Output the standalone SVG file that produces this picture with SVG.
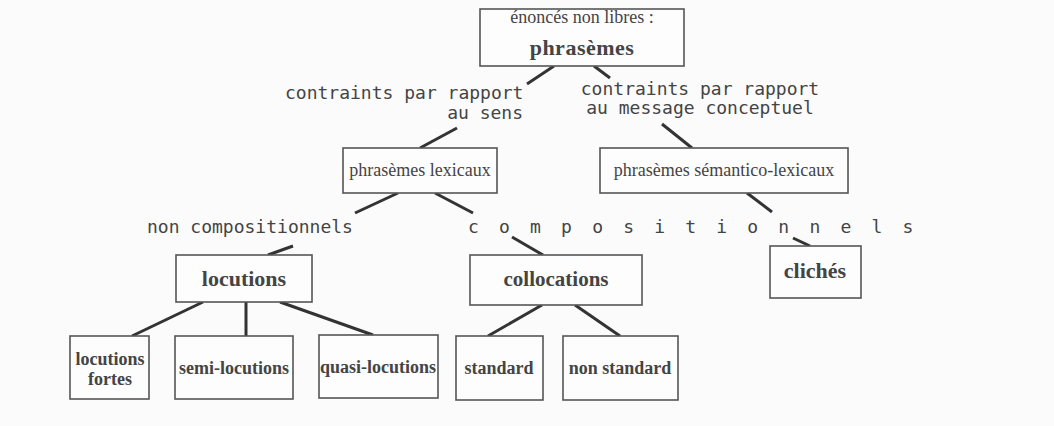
<svg xmlns="http://www.w3.org/2000/svg" width="1054" height="426" viewBox="0 0 1054 426">
<style>
.box{fill:#fdfdfd;stroke:#555;stroke-width:1.6}
.t{font-family:"Liberation Serif",serif;fill:#444;text-anchor:middle}
.r{font-size:18px}
.b{font-weight:bold}
.m{font-family:"DejaVu Sans Mono","Liberation Mono",monospace;font-size:18px;fill:#444}
.c line{stroke:#333;stroke-width:3;stroke-linecap:butt}
</style>
<rect width="1054" height="426" fill="#fbfbfb"/>
<g class="c" id="connectors">
<line x1="554" y1="66" x2="527" y2="84"/>
<line x1="457" y1="128" x2="420" y2="148"/>
<line x1="594" y1="66" x2="610" y2="78"/>
<line x1="662" y1="124" x2="692" y2="148"/>
<line x1="398" y1="193" x2="355" y2="213"/>
<line x1="435" y1="193" x2="473" y2="213"/>
<line x1="747" y1="193" x2="772" y2="212"/>
<line x1="293" y1="246" x2="268" y2="255"/>
<line x1="512" y1="237" x2="543" y2="255"/>
<line x1="793" y1="238" x2="810" y2="246"/>
<line x1="203" y1="302" x2="132" y2="336"/>
<line x1="246" y1="302" x2="246" y2="336"/>
<line x1="280" y1="302" x2="373" y2="335"/>
<line x1="542" y1="305" x2="488" y2="336"/>
<line x1="575" y1="305" x2="620" y2="336"/>
</g>
<g id="labels">
<text class="m" x="285" y="99">contraints par rapport</text>
<text class="m" x="523" y="119" text-anchor="end">au sens</text>
<text class="m" x="700" y="95" text-anchor="middle">contraints par rapport</text>
<text class="m" x="700" y="114" text-anchor="middle">au message conceptuel</text>
<text class="m" x="147" y="233">non compositionnels</text>
<text class="m" x="468" y="233" letter-spacing="20.2">compositionnels</text>
</g>
<g id="phrasemes">
<rect class="box" x="480" y="9" width="204" height="57"/>
<text class="t r" x="582" y="23">énoncés non libres :</text>
<text class="t b" x="582" y="55" font-size="22" letter-spacing="0.5">phrasèmes</text>
</g>
<g id="lexicaux">
<rect class="box" x="343" y="148" width="154" height="45"/>
<text class="t r" x="420" y="176">phrasèmes lexicaux</text>
</g>
<g id="semantico">
<rect class="box" x="600" y="148" width="248" height="45"/>
<text class="t r" x="724" y="176">phrasèmes sémantico-lexicaux</text>
</g>
<g id="locutions">
<rect class="box" x="176" y="255" width="136" height="47"/>
<text class="t b" x="244" y="286" font-size="22">locutions</text>
</g>
<g id="collocations">
<rect class="box" x="470" y="255" width="172" height="50"/>
<text class="t b" x="556" y="286" font-size="21">collocations</text>
</g>
<g id="cliches">
<rect class="box" x="770" y="246" width="91" height="52"/>
<text class="t b" x="815" y="278" font-size="22">clichés</text>
</g>
<g id="locutions-fortes">
<rect class="box" x="70" y="336" width="79" height="63"/>
<text class="t b r" x="110" y="365">locutions</text>
<text class="t b r" x="110" y="385">fortes</text>
</g>
<g id="semi-locutions">
<rect class="box" x="175" y="336" width="118" height="63"/>
<text class="t b r" x="234" y="374">semi-locutions</text>
</g>
<g id="quasi-locutions">
<rect class="box" x="319" y="335" width="119" height="63"/>
<text class="t b r" x="378" y="373">quasi-locutions</text>
</g>
<g id="standard">
<rect class="box" x="456" y="336" width="87" height="64"/>
<text class="t b r" x="499" y="374">standard</text>
</g>
<g id="non-standard">
<rect class="box" x="563" y="336" width="115" height="64"/>
<text class="t b r" x="620" y="374">non standard</text>
</g>
</svg>
